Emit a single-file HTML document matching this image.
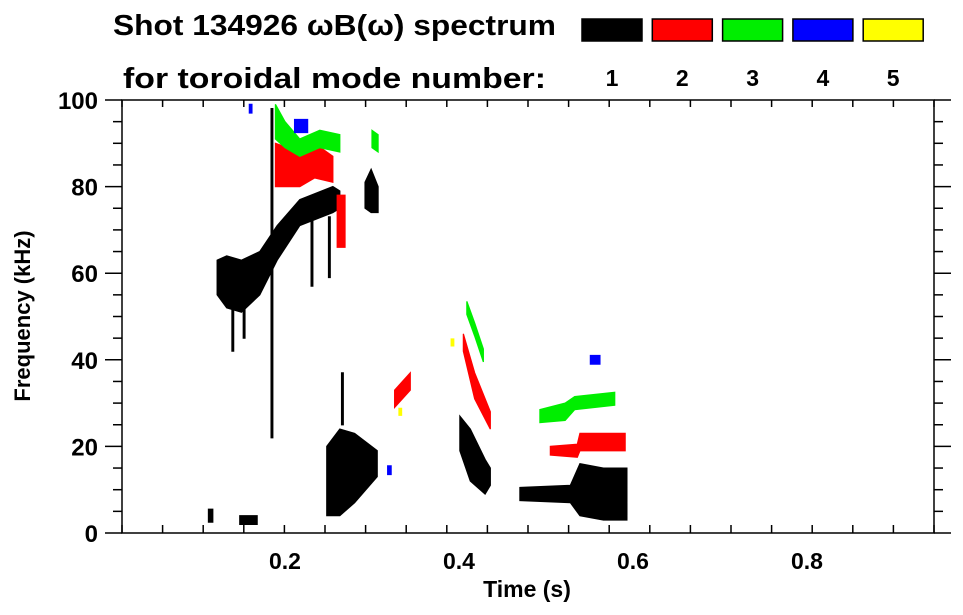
<!DOCTYPE html>
<html><head><meta charset="utf-8">
<style>
html,body{margin:0;padding:0;background:#fff;}
svg{display:block;font-family:"Liberation Sans",Arial,sans-serif;font-weight:bold;}
</style></head>
<body>
<svg id="chart" width="963" height="615" viewBox="0 0 963 615" xmlns="http://www.w3.org/2000/svg">
<text x="113" y="35" font-size="29" textLength="443" lengthAdjust="spacingAndGlyphs">Shot 134926 ωB(ω) spectrum</text>
<text x="123" y="88" font-size="29" textLength="423" lengthAdjust="spacingAndGlyphs">for toroidal mode number:</text>
<g id="legend"></g>
<g id="marks"></g>
<g id="axes"></g>
<text x="527" y="597" font-size="23" text-anchor="middle">Time (s)</text>
<text transform="translate(30,316) rotate(-90)" font-size="22" text-anchor="middle">Frequency (kHz)</text>
</svg>
<script>
// ---- data ----
const modeNumbers = [1, 2, 3, 4, 5];
const modeColors = ["#000000", "#ff0000", "#00ee00", "#0000ff", "#ffff00"];
const xTickLabels = [0.2, 0.4, 0.6, 0.8];
const yTickLabels = [0, 20, 40, 60, 80, 100];
// each track: times (s), centre frequencies (kHz), half-widths (kHz)
const mode1Times = [[0.122,0.133,0.150,0.171,0.191,0.217,0.255,0.263],[0.292,0.299,0.307],[0.248,0.263,0.280,0.306],[0.401,0.413,0.430,0.436],[0.470,0.528,0.539,0.566,0.593],[0.184,0.186],[0.112,0.117],[0.148,0.168],[0.139,0.141],[0.152,0.154],[0.230,0.232],[0.250,0.252],[0.265,0.267]];
const mode1Freqs = [[59,58,57,60,67,74,77,77],[78,79,77],[12,14,15,16],[23,18,13,13],[9,9,10,9,9],[60,60],[4,4],[3,3],[48,48],[50,50],[65,65],[66,66],[31,31]];
const mode1Widths = [[4,6,6,5,4,3,3,2],[3,5,3],[8,10,8,3],[4,6,4,2],[1.5,2,6,6,6],[38,38],[1.5,1.5],[1,1],[6,6],[5,5],[8,8],[7,7],[6,6]];
const mode2Times = [[0.189,0.217,0.234,0.255],[0.260,0.269],[0.326,0.344],[0.405,0.418,0.436],[0.505,0.536,0.539,0.591]];
const mode2Freqs = [[85,84,86,84],[72,72],[31,35],[44,34,26],[19,19,21,21]];
const mode2Widths = [[5,4,4,3],[6,6],[2,2],[2,3,2],[1,1.5,2,2]];
const mode3Times = [[0.189,0.200,0.217,0.240,0.263],[0.300,0.307],[0.409,0.418,0.428],[0.493,0.522,0.533,0.579]];
const mode3Freqs = [[95,92,89,91,90],[91,90],[52,47,41],[27,28,30,31]];
const mode3Widths = [[4,3,2,2,2],[2,2],[1.5,1.5,1.5],[1.5,2,1.5,1.5]];
const mode4Times = [[0.211,0.226],[0.551,0.562],[0.159,0.162],[0.318,0.322]];
const mode4Freqs = [[94,94],[40,40],[98,98],[14.5,14.5]];
const mode4Widths = [[1.5,1.5],[1,1],[1,1],[1,1]];
const mode5Times = [[0.331,0.334],[0.391,0.394]];
const mode5Freqs = [[28,28],[44,44]];
const mode5Widths = [[0.8,0.8],[0.8,0.8]];

// ---- axes functions ----
const PX0=122, PX1=934, PY0=100, PY1=533;
function xs(t){ return 111 + t*870; }
function ys(f){ return PY1 - (f/100)*(PY1-PY0); }
const NS="http://www.w3.org/2000/svg";
function mk(tag, attrs, parent){ const e=document.createElementNS(NS,tag); for(const k in attrs) e.setAttribute(k,attrs[k]); parent.appendChild(e); return e; }

// legend
const lg=document.getElementById('legend');
modeNumbers.forEach((m,i)=>{
  const bx=582+i*70.3;
  const r=mk('rect',{x:bx,y:19,width:60,height:22,fill:modeColors[i],stroke:'#000','stroke-width':1.5},lg);
  
  
  const t=mk('text',{x:bx+30,y:86,'font-size':23,'text-anchor':'middle'},lg);
  t.textContent=m;
  
  
});

// marks
const marks=document.getElementById('marks');
const cp=mk('clipPath',{id:'clip'},marks); mk('rect',{x:PX0,y:PY0,width:PX1-PX0,height:PY1-PY0},cp);
const allModes=[[mode1Times,mode1Freqs,mode1Widths],[mode2Times,mode2Freqs,mode2Widths],[mode3Times,mode3Freqs,mode3Widths],[mode4Times,mode4Freqs,mode4Widths],[mode5Times,mode5Freqs,mode5Widths]];
allModes.forEach((md,mi)=>{
  const [T,F,W]=md;
  T.forEach((ts,ti)=>{
    const up=[], lo=[];
    for(let k=0;k<ts.length;k++){
      up.push(xs(ts[k])+','+ys(F[ti][k]+W[ti][k]));
      lo.unshift(xs(ts[k])+','+ys(F[ti][k]-W[ti][k]));
    }
    const p=mk('polygon',{points:up.concat(lo).join(' '),fill:modeColors[mi],stroke:modeColors[mi],'stroke-width':1.2,'clip-path':'url(#clip)'},marks);
    
    
  });
});

// axes
const ax=document.getElementById('axes');
const frame=mk('rect',{x:PX0,y:PY0,width:PX1-PX0,height:PY1-PY0,fill:'none',stroke:'#000','stroke-width':1.5},ax);


for(let f=0;f<=100;f+=5){
  const y=ys(f), major=(f%20===0);
  mk('line',{x1:major?105:113,x2:PX0,y1:y,y2:y,stroke:'#000','stroke-width':1.5},ax);
  mk('line',{x1:PX1,x2:major?951:943,y1:y,y2:y,stroke:'#000','stroke-width':1.5},ax);
}
for(let i=0;i<=20;i++){
  const x=PX0+i*(PX1-PX0)/20;
  mk('line',{x1:x,x2:x,y1:PY1,y2:PY1-8,stroke:'#000','stroke-width':1.5},ax);
  mk('line',{x1:x,x2:x,y1:PY0,y2:PY0+7,stroke:'#000','stroke-width':1.5},ax);
}
yTickLabels.forEach(v=>{
  const t=mk('text',{x:98,y:ys(v)+9,'font-size':24,'text-anchor':'end'},ax);
  t.textContent=v;
  
  
});
xTickLabels.forEach(v=>{
  const t=mk('text',{x:xs(v),y:569,'font-size':23,'text-anchor':'middle'},ax);
  t.textContent=v.toFixed(1);
  
  
});
</script>
</body></html>
